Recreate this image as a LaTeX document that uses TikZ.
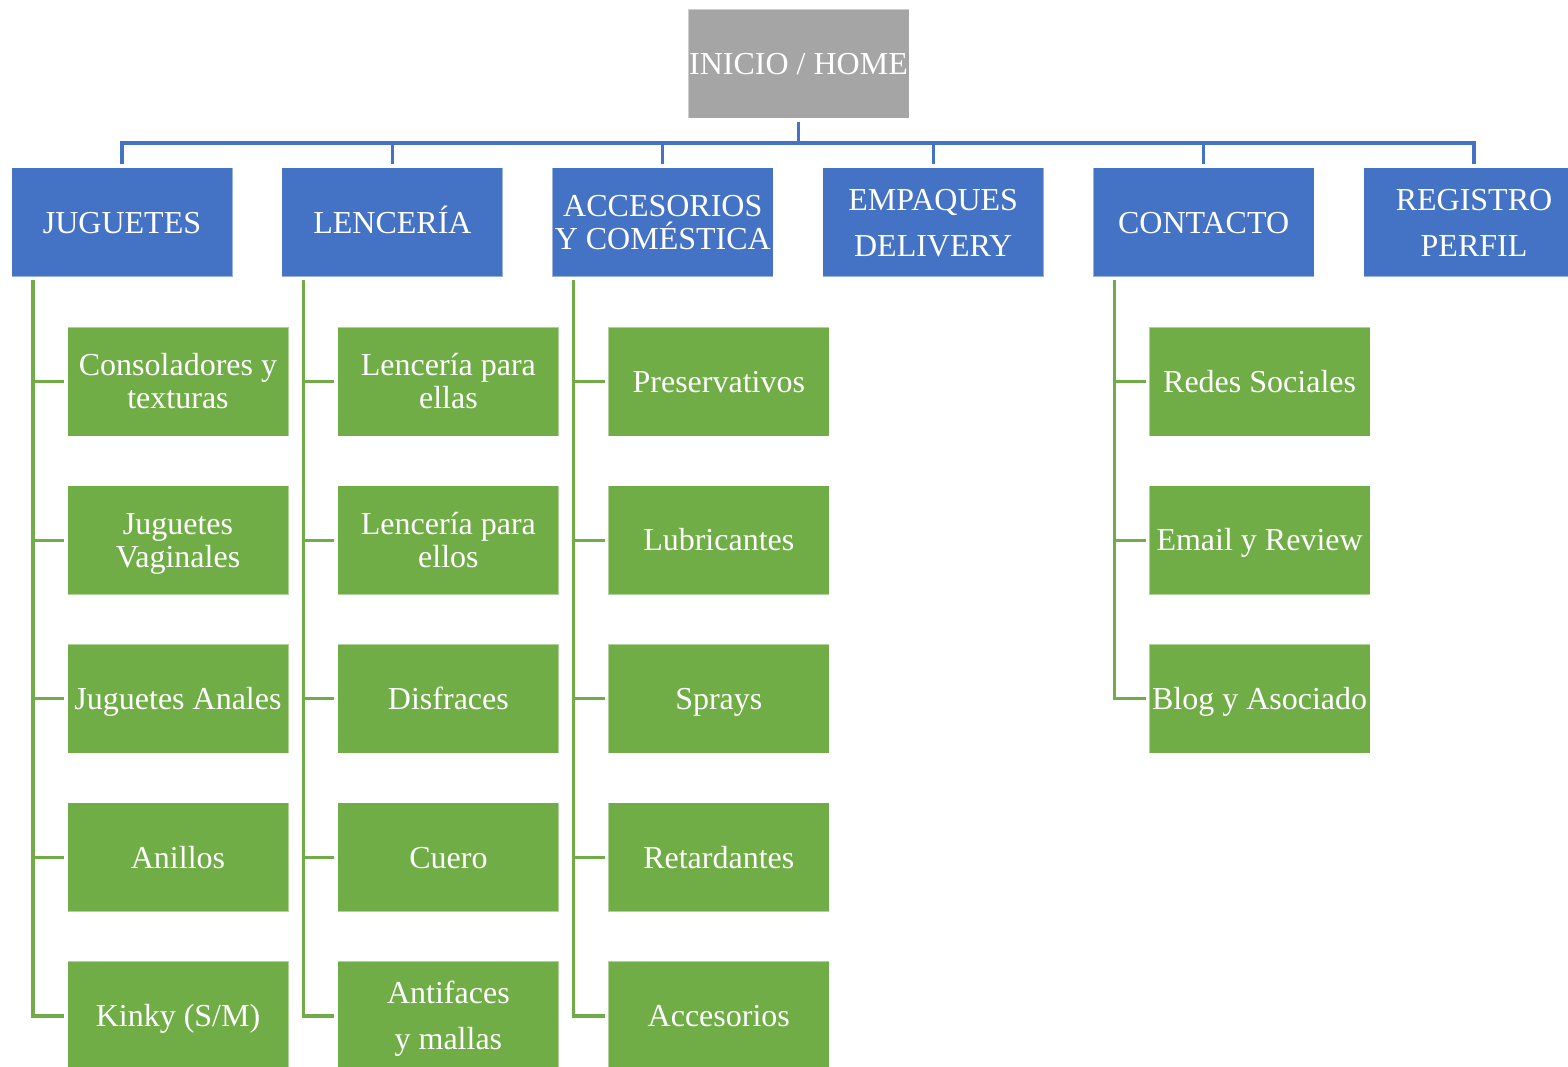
\documentclass[tikz,border=0pt]{standalone}
\usepackage{fontspec}
\setmainfont{Liberation Serif}
\definecolor{bx}{HTML}{4472C4}
\definecolor{gx}{HTML}{70AD47}
\definecolor{rx}{HTML}{A5A5A5}
\newcommand\stt{\vrule height 0.891em depth 0.216em width 0pt\relax}
\newcommand\boxfont{\fontsize{32}{33}\selectfont\lineskiplimit=-100pt\relax}
\tikzset{
  basebox/.style={minimum width=221pt, minimum height=109pt, inner sep=0pt,
    text=white, align=center, font=\boxfont,
    draw=white, draw opacity=0.45, line width=1pt},
  rootbox/.style={basebox, fill=rx},
  topbox/.style={basebox, fill=bx},
  leafbox/.style={basebox, fill=gx},
  bline/.style={draw=bx, line width=3.2pt, shorten <=3pt, shorten >=3pt},
  gline/.style={draw=gx, line width=3.2pt, shorten >=3pt}
}
\begin{document}
\begin{tikzpicture}[x=1pt,y=-1pt]
\useasboundingbox (0,0) rectangle (1568,1067);
\clip (0,0) rectangle (1568,1067);
\fill[white] (0,0) rectangle (1568,1067);

\node[rootbox] (root) at (798.5,64) {\stt INICIO / HOME};

\node[topbox] (jug) at (122,222.5)    {\stt JUGUETES};
\node[topbox] (len) at (392.4,222.5)  {\stt LENCERÍA};
\node[topbox] (acc) at (662.8,222.5)  {\stt ACCESORIOS\\\stt Y COMÉSTICA};
\node[topbox] (emp) at (933.2,222.5)  {\stt EMPAQUES\\[13pt]\stt DELIVERY};
\node[topbox] (con) at (1203.6,222.5) {\stt CONTACTO};
\node[topbox] (reg) at (1474,222.5)   {\stt REGISTRO\\[13pt]\stt PERFIL};

\coordinate (bus) at (798.5,143);
\foreach \c in {jug,len,acc,emp,con,reg}{
  \draw[bline] (root.south) -- (bus) -| (\c.north);
}

% JUGUETES children
\node[leafbox] (j1) at (178,381.5)  {\stt Consoladores y\\\stt texturas};
\node[leafbox] (j2) at (178,540.1)  {\stt Juguetes\\\stt Vaginales};
\node[leafbox] (j3) at (178,698.7)  {\stt Juguetes Anales};
\node[leafbox] (j4) at (178,857.3)  {\stt Anillos};
\node[leafbox] (j5) at (178,1015.9) {\stt Kinky (S/M)};

% LENCERIA children
\node[leafbox] (l1) at (448.4,381.5)  {\stt Lencería para\\\stt ellas};
\node[leafbox] (l2) at (448.4,540.1)  {\stt Lencería para\\\stt ellos};
\node[leafbox] (l3) at (448.4,698.7)  {\stt Disfraces};
\node[leafbox] (l4) at (448.4,857.3)  {\stt Cuero};
\node[leafbox] (l5) at (448.4,1015.9) {\stt Antifaces\\[13pt]\stt y mallas};

% ACCESORIOS children
\node[leafbox] (a1) at (718.8,381.5)  {\stt Preservativos};
\node[leafbox] (a2) at (718.8,540.1)  {\stt Lubricantes};
\node[leafbox] (a3) at (718.8,698.7)  {\stt Sprays};
\node[leafbox] (a4) at (718.8,857.3)  {\stt Retardantes};
\node[leafbox] (a5) at (718.8,1015.9) {\stt Accesorios};

% CONTACTO children
\node[leafbox] (c1) at (1259.6,381.5) {\stt Redes Sociales};
\node[leafbox] (c2) at (1259.6,540.1) {\stt Email y Review};
\node[leafbox] (c3) at (1259.6,698.7) {\stt Blog y Asociado};

\foreach \c in {j1,j2,j3,j4,j5}{
  \draw[gline] ([xshift=22pt,yshift=-3pt]jug.south west) |- (\c.west);
}
\foreach \c in {l1,l2,l3,l4,l5}{
  \draw[gline] ([xshift=22pt,yshift=-3pt]len.south west) |- (\c.west);
}
\foreach \c in {a1,a2,a3,a4,a5}{
  \draw[gline] ([xshift=22pt,yshift=-3pt]acc.south west) |- (\c.west);
}
\foreach \c in {c1,c2,c3}{
  \draw[gline] ([xshift=22pt,yshift=-3pt]con.south west) |- (\c.west);
}
\end{tikzpicture}
\end{document}
